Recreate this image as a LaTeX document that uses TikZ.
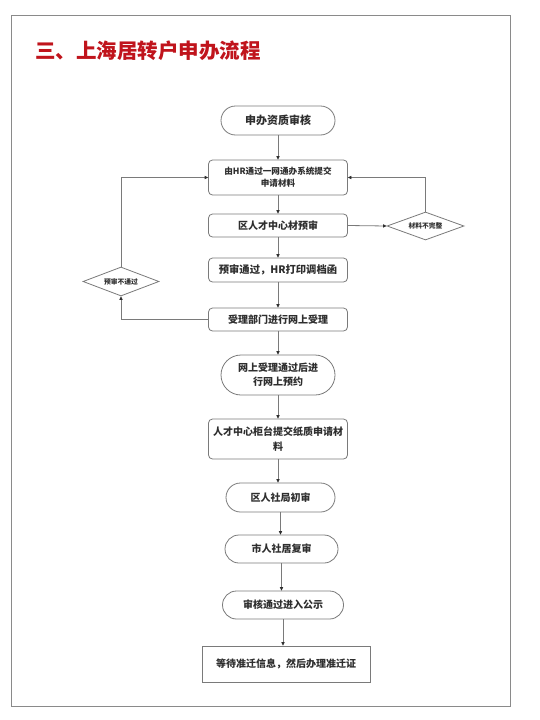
\documentclass[tikz,border=0pt]{standalone}
\usepackage{fontspec}
\newfontfamily\cjk{Noto Sans CJK SC}
\usetikzlibrary{shapes.geometric,arrows.meta}
\definecolor{titlered}{HTML}{C0141C}
\definecolor{framegray}{HTML}{8A8A8A}
\definecolor{linegray}{HTML}{7A7A7A}
\definecolor{txt}{HTML}{2E2E2E}
\tikzset{
  box/.style={draw=linegray, line width=0.8pt, rounded corners=4pt, inner sep=0pt, align=center, text=txt, font=\cjk\bfseries\fontsize{10}{13}\selectfont},
  stadium/.style={box, rounded corners=#1},
  plainbox/.style={draw=linegray, line width=0.8pt, inner sep=0pt, align=center, text=txt, font=\cjk\bfseries\fontsize{10}{13}\selectfont},
  decide/.style={draw=linegray, line width=0.8pt, diamond, inner sep=0pt, aspect=2.7, text=txt, font=\cjk\bfseries\fontsize{6.8}{8}\selectfont},
  arr/.style={draw=linegray, line width=0.8pt, -{Triangle[length=3.5pt,width=3.2pt,color=txt]}}
}
\begin{document}
\begin{tikzpicture}[x=1pt,y=-1pt]
\useasboundingbox (0,0) rectangle (540,720);
\fill[white] (0,0) rectangle (540,720);
\draw[framegray, line width=1pt] (11,15) rectangle (510,706);
\node[anchor=west, text=titlered, font=\cjk\bfseries\fontsize{20.5}{24}\selectfont, inner sep=0pt] (title) at (35,51) {三、上海居转户申办流程};

\node[stadium=14.5pt, minimum width=114pt, minimum height=29pt, font=\cjk\bfseries\fontsize{11}{13}\selectfont] (n1) at (278,120.5) {申办资质审核};
\node[box, minimum width=139pt, minimum height=35pt, font=\cjk\bfseries\fontsize{8.6}{12}\selectfont] (n2) at (278,177.5) {由HR通过一网通办系统提交\\申请材料};
\node[box, minimum width=139pt, minimum height=23pt] (n3) at (278,225.5) {区人才中心材预审};
\node[box, minimum width=139pt, minimum height=24pt, font=\cjk\bfseries\fontsize{10.3}{13}\selectfont] (n4) at (278,270) {预审通过，HR打印调档函};
\node[box, minimum width=139pt, minimum height=23pt] (n5) at (278,319.5) {受理部门进行网上受理};
\node[stadium=20pt, minimum width=114pt, minimum height=40pt, font=\cjk\bfseries\fontsize{10}{14}\selectfont] (n6) at (278,375) {网上受理通过后进\\行网上预约};
\node[box, minimum width=139pt, minimum height=40pt, font=\cjk\bfseries\fontsize{10}{15}\selectfont] (n7) at (278,439) {人才中心柜台提交纸质申请材\\料};
\node[stadium=14.5pt, minimum width=109pt, minimum height=29pt] (n8) at (280.5,497.5) {区人社局初审};
\node[stadium=14pt, minimum width=113pt, minimum height=28pt] (n9) at (281.5,549) {市人社居复审};
\node[stadium=14pt, minimum width=121pt, minimum height=28pt] (n10) at (283,605) {审核通过进入公示};
\node[plainbox, minimum width=168pt, minimum height=36pt] (n11) at (286,664) {等待准迁信息，然后办理准迁证};

\node[decide, minimum width=77pt, minimum height=28pt] (dr) at (425.5,226) {材料不完整};
\node[decide, minimum width=76pt, minimum height=29pt] (dl) at (121,281.5) {预审不通过};

\draw[arr] (n1) -- (n2);
\draw[arr] (n2) -- (n3);
\draw[arr] (n3) -- (n4);
\draw[arr] (n4) -- (n5);
\draw[arr] (n5) -- (n6);
\draw[arr] (n6) -- (n7);
\draw[arr] (n7.south) -- (n7.south |- n8.north);
\draw[arr] (n8.south) -- (n8.south |- n9.north);
\draw[arr] (n9.south) -- (n9.south |- n10.north);
\draw[arr] (n10.south) -- (n10.south |- n11.north);

\draw[arr] (n3.east) -- (dr.west);
\draw[arr] (dr.north) |- (n2.east);
\draw[arr] (n5.west) -| (dl.south);
\draw[arr] (dl.north) |- (n2.west);
\end{tikzpicture}
\end{document}
